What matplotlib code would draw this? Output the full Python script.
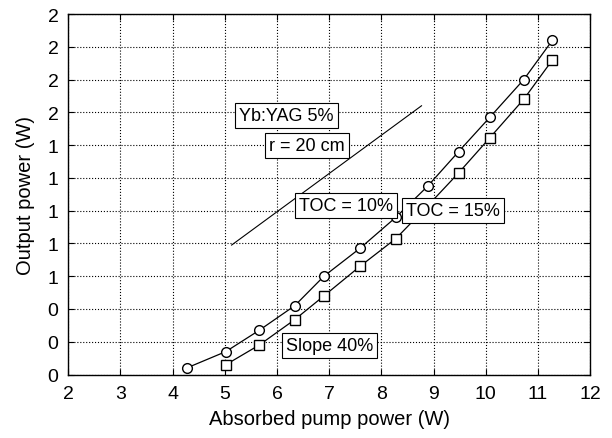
import numpy as np
import matplotlib.pyplot as plt

plt.rcParams['font.family'] = ['Liberation Sans', 'DejaVu Sans']

# TOC = 10% (circles)
pump_10 = [4.27, 5.02, 5.66, 6.34, 6.90, 7.59, 8.28, 8.89, 9.48, 10.08, 10.73, 11.28]
out_10 = [0.04, 0.14, 0.27, 0.42, 0.60, 0.77, 0.96, 1.15, 1.36, 1.57, 1.80, 2.04]

# TOC = 15% (squares)
pump_15 = [5.02, 5.66, 6.34, 6.90, 7.59, 8.28, 8.89, 9.48, 10.08, 10.73, 11.28]
out_15 = [0.06, 0.18, 0.335, 0.48, 0.66, 0.83, 1.03, 1.23, 1.445, 1.68, 1.92]

# slope guide line
slope_x = [5.13, 8.77]
slope_y = [0.79, 1.64]

y_ticks = np.arange(0, 2.21, 0.2)
y_labels = ["%.0f" % v for v in y_ticks]

fig = plt.figure(figsize=(6.12, 4.39), dpi=100)
ax = fig.add_axes([0.1116, 0.1446, 0.8525, 0.8212])

ax.plot(pump_10, out_10, color="black", lw=0.9, marker="o", ms=7,
        mfc="white", mec="black", mew=1.0, zorder=3)
ax.plot(pump_15, out_15, color="black", lw=0.9, marker="s", ms=7,
        mfc="white", mec="black", mew=1.0, zorder=3)
ax.plot(slope_x, slope_y, color="black", lw=0.8, zorder=3)

box = dict(boxstyle="square,pad=0.22", fc="white", ec="black", lw=0.8)
notes = [("Yb:YAG 5%", 6.18, 1.58), ("r = 20 cm", 6.57, 1.40),
         ("TOC = 10%", 7.33, 1.03), ("TOC = 15%", 9.37, 1.00),
         ("Slope 40%", 7.01, 0.176)]
for txt, x, y in notes:
    ax.text(x, y, txt, ha="center", va="center", fontsize=13,
            bbox=box, zorder=5)

ax.set_xlim(2, 12)
ax.set_ylim(0, 2.2)
ax.set_xticks(range(2, 13))
ax.set_yticks(y_ticks)
ax.set_yticklabels(y_labels)
ax.tick_params(direction="in", labelsize=14, top=True, right=True,
               length=4, width=0.8)
ax.tick_params(axis="x", pad=7.5)
ax.tick_params(axis="y", pad=7)
ax.grid(True, color="black", linestyle=":", lw=0.8)
for s in ax.spines.values():
    s.set_linewidth(1.0)

ax.set_xlabel("Absorbed pump power (W)", fontsize=14.5, labelpad=5)
ax.set_ylabel("Output power (W)", fontsize=14.5, labelpad=9)

fig.savefig("out.png", dpi=100)
